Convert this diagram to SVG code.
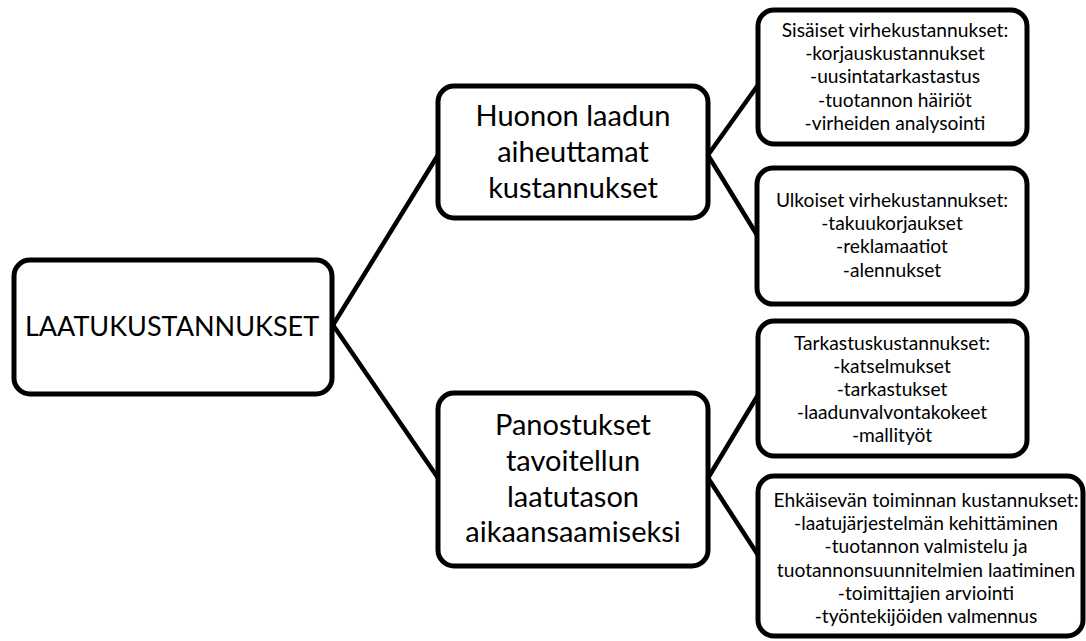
<svg xmlns="http://www.w3.org/2000/svg" width="1086" height="641" viewBox="0 0 1086 641">
<style>
.box{fill:#fff;stroke:#000;stroke-width:5}
.con{stroke:#000;stroke-width:4.5;fill:none;stroke-linecap:round}
text{font-family:Lato,"Open Sans",sans-serif;fill:#000;text-anchor:middle}
.big{font-size:27px}
.mid{font-size:29px}
.small{font-size:19.2px}
</style>
<rect width="1086" height="641" fill="#fff"/>
<g id="connectors">
<line class="con" x1="333" y1="325" x2="438" y2="155"/>
<line class="con" x1="333" y1="325" x2="438" y2="478"/>
<line class="con" x1="708" y1="155" x2="758" y2="85"/>
<line class="con" x1="708" y1="155" x2="757" y2="235"/>
<line class="con" x1="708" y1="478" x2="758" y2="395"/>
<line class="con" x1="708" y1="478" x2="758" y2="555"/>
</g>
<g id="root">
<rect class="box" x="14" y="260" width="318" height="134" rx="16"/>
<text class="big" x="172" y="336">LAATUKUSTANNUKSET</text>
</g>
<g id="huonon">
<rect class="box" x="438" y="86" width="270" height="132" rx="16"/>
<text class="mid" x="573" y="126">Huonon laadun</text>
<text class="mid" x="573" y="162">aiheuttamat</text>
<text class="mid" x="573" y="198">kustannukset</text>
</g>
<g id="panostukset">
<rect class="box" x="438" y="393" width="270" height="173" rx="16"/>
<text class="mid" x="573" y="435">Panostukset</text>
<text class="mid" x="573" y="471">tavoitellun</text>
<text class="mid" x="573" y="507">laatutason</text>
<text class="mid" x="573" y="542">aikaansaamiseksi</text>
</g>
<g id="sisaiset">
<rect class="box" x="758" y="10" width="269" height="134" rx="16"/>
<text class="small" x="895" y="37">Sisäiset virhekustannukset:</text>
<text class="small" x="895" y="60">-korjauskustannukset</text>
<text class="small" x="895" y="83">-uusintatarkastastus</text>
<text class="small" x="895" y="107">-tuotannon häiriöt</text>
<text class="small" x="895" y="130">-virheiden analysointi</text>
</g>
<g id="ulkoiset">
<rect class="box" x="757" y="168" width="270" height="136" rx="16"/>
<text class="small" x="892" y="207">Ulkoiset virhekustannukset:</text>
<text class="small" x="892" y="230">-takuukorjaukset</text>
<text class="small" x="892" y="253">-reklamaatiot</text>
<text class="small" x="892" y="277">-alennukset</text>
</g>
<g id="tarkastus">
<rect class="box" x="758" y="321" width="269" height="135" rx="16"/>
<text class="small" x="892" y="350">Tarkastuskustannukset:</text>
<text class="small" x="892" y="373">-katselmukset</text>
<text class="small" x="892" y="396">-tarkastukset</text>
<text class="small" x="892" y="419">-laadunvalvontakokeet</text>
<text class="small" x="892" y="442">-mallityöt</text>
</g>
<g id="ehkaisevan">
<rect class="box" x="758" y="476" width="325" height="160" rx="16"/>
<text class="small" x="926" y="507">Ehkäisevän toiminnan kustannukset:</text>
<text class="small" x="926" y="530">-laatujärjestelmän kehittäminen</text>
<text class="small" x="926" y="553">-tuotannon valmistelu ja</text>
<text class="small" x="926" y="577">tuotannonsuunnitelmien laatiminen</text>
<text class="small" x="926" y="600">-toimittajien arviointi</text>
<text class="small" x="926" y="623">-työntekijöiden valmennus</text>
</g>
</svg>
